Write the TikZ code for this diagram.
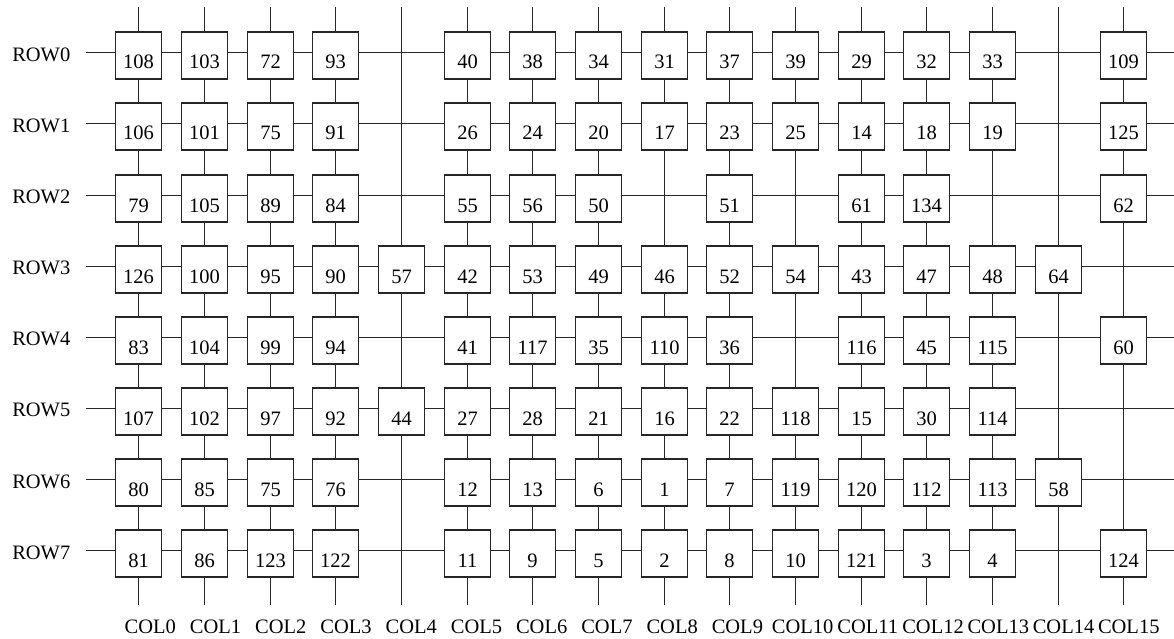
\documentclass[tikz,border=0pt]{standalone}
\usepackage{fontspec}
\setmainfont{Liberation Serif}
\begin{document}
\begin{tikzpicture}[x=1pt,y=-1pt,line width=1.3pt,
  txt/.style={font=\fontsize{20.5}{24}\selectfont},
  box/.style={txt,draw,fill=white,inner sep=0pt,minimum width=46pt,minimum height=47pt,text height=27pt,text depth=0pt},
  lbl/.style={txt,inner sep=0pt},
  wire/.style={draw=black!85,line width=1.3pt}]
\useasboundingbox (0,0) rectangle (1174,639);
% grid end points (snapped to pixel centres)
\foreach \c in {0,...,15} {
  \pgfmathsetmacro\xc{round(139.3+65.67*\c)-0.5}
  \coordinate (top\c) at (\xc,7);
  \coordinate (bot\c) at (\xc,605);
}
\foreach \r in {0,...,7} {
  \pgfmathsetmacro\yr{round(53.3+71.1*\r)-0.5}
  \coordinate (left\r) at (86,\yr);
  \coordinate (right\r) at (1174,\yr);
}
\foreach \c in {0,...,15} \draw[wire] (top\c) -- (bot\c);
\foreach \r in {0,...,7} \draw[wire] (left\r) -- (right\r);
% labels
\foreach \r in {0,...,7}
  \node[lbl,anchor=east] (row\r) at (71,54.8+71.1*\r) {ROW\r};
\foreach \c in {0,...,15}
  \node[lbl] (col\c) at (150.3+65.23*\c,627) {COL\c};
% boxes (0 = empty crossing)
\foreach \r/\vals in {
  0/{108,103,72,93,0,40,38,34,31,37,39,29,32,33,0,109},
  1/{106,101,75,91,0,26,24,20,17,23,25,14,18,19,0,125},
  2/{79,105,89,84,0,55,56,50,0,51,0,61,134,0,0,62},
  3/{126,100,95,90,57,42,53,49,46,52,54,43,47,48,64,0},
  4/{83,104,99,94,0,41,117,35,110,36,0,116,45,115,0,60},
  5/{107,102,97,92,44,27,28,21,16,22,118,15,30,114,0,0},
  6/{80,85,75,76,0,12,13,6,1,7,119,120,112,113,58,0},
  7/{81,86,123,122,0,11,9,5,2,8,10,121,3,4,0,124}} {
  \foreach \v [count=\c from 0] in \vals {
    \ifnum\v>0
      \pgfmathsetmacro\bx{round(139.3+65.67*\c)-0.5}
      \pgfmathsetmacro\by{round(53.3+71.1*\r)+2.5}
      \node[box,draw=black!85] (b\r-\c) at (\bx,\by) {\v};
    \fi
  }
}
\end{tikzpicture}
\end{document}
